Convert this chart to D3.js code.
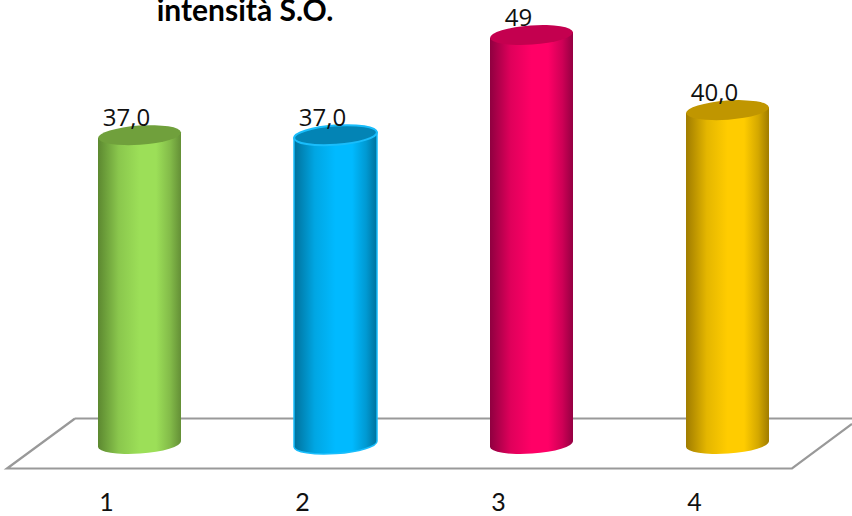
<!DOCTYPE html>
<html>
<head>
<meta charset="utf-8">
<script src="https://cdnjs.cloudflare.com/ajax/libs/d3/7.8.5/d3.min.js"></script>
<style>html,body{margin:0;padding:0;background:#fff;overflow:hidden}svg{display:block}</style>
</head>
<body>
<svg id="chart" width="852" height="516"></svg>
<script>
const categories = ["1", "2", "3", "4"];
const values = [37, 37, 49, 40];
const valueLabels = ["37,0", "37,0", "49", "40,0"];
const titleText = "intensità S.O.";
const edgeLeft = ["#5c8830", "#00719c", "#8f0040", "#a07c00"];
const midColor = ["#9cdf58", "#00baff", "#ff0066", "#ffcc00"];
const edgeRight = ["#648f36", "#00719c", "#940042", "#a07c00"];
const topColor = ["#70a03c", "#0384b5", "#c4004f", "#c09600"];
const rimColor = [null, "#19bdfb", null, null];

const svg = d3.select("#chart");
const x = d3.scalePoint().domain(categories).range([139.5, 727.5]);
const y = d3.scaleLinear().domain([0, 49]).range([444, 35]);
const rx = 41.5, ry = 9.6, tilt = -4;
const dy = rx * Math.sin(tilt * Math.PI / 180);

const defs = svg.append("defs");
categories.forEach((c, i) => {
  const g = defs.append("linearGradient").attr("id", "g" + i);
  [[0, edgeLeft[i]],
   [0.25, d3.interpolateRgb(edgeLeft[i], midColor[i])(0.72)],
   [0.5, midColor[i]], [0.7, midColor[i]],
   [0.87, d3.interpolateRgb(edgeRight[i], midColor[i])(0.55)],
   [1, edgeRight[i]]]
    .forEach(([o, col]) => g.append("stop").attr("offset", o).attr("stop-color", col));
});

// floor
svg.append("path")
  .attr("d", "M75,418.5H852M75,418.5L7,468.5H792L852,424")
  .attr("fill", "none").attr("stroke", "#999").attr("stroke-width", 2.2);

// cylinders
const bars = svg.selectAll("g.bar").data(categories).join("g").attr("class", "bar");
bars.append("path")
  .attr("d", (c, i) => {
    const cx = x(c), t = y(values[i]), b = y(0);
    return `M${cx - rx},${t - dy}L${cx - rx},${b - dy}A${rx},${ry} ${tilt} 0 0 ${cx + rx},${b + dy}L${cx + rx},${t + dy}Z`;
  })
  .attr("fill", (c, i) => `url(#g${i})`)
  .attr("stroke", (c, i) => rimColor[i] || "none")
  .attr("stroke-width", 1.5);
bars.append("ellipse")
  .attr("cx", 0).attr("cy", 0).attr("rx", rx).attr("ry", ry)
  .attr("transform", (c, i) => `translate(${x(c)},${y(values[i])}) rotate(${tilt})`)
  .attr("fill", (c, i) => topColor[i])
  .attr("stroke", (c, i) => rimColor[i] || "none")
  .attr("stroke-width", 2);

// value labels
svg.selectAll("text.val").data(categories).join("text")
  .attr("class", "val")
  .attr("x", c => x(c) - 13)
  .attr("y", (c, i) => y(values[i]) - 9)
  .attr("text-anchor", "middle")
  .attr("font-family", "'Open Sans'")
  .attr("font-size", 24)
  .attr("fill", "#111")
  .text((c, i) => valueLabels[i]);

// category axis
const axis = d3.axisBottom(d3.scalePoint().domain(categories).range([106, 694])).tickSize(0).tickPadding(0);
const ax = svg.append("g").attr("transform", "translate(0,493)").call(axis);
ax.select(".domain").remove();
ax.selectAll("text").attr("font-family", "Lato").attr("font-size", 25).attr("fill", "#111");

// title
svg.append("text").attr("x", 245).attr("y", 21).attr("text-anchor", "middle")
  .attr("font-family", "Lato").attr("font-weight", 700).attr("font-size", 30).attr("fill", "#000")
  .text(titleText);
</script>
</body>
</html>
